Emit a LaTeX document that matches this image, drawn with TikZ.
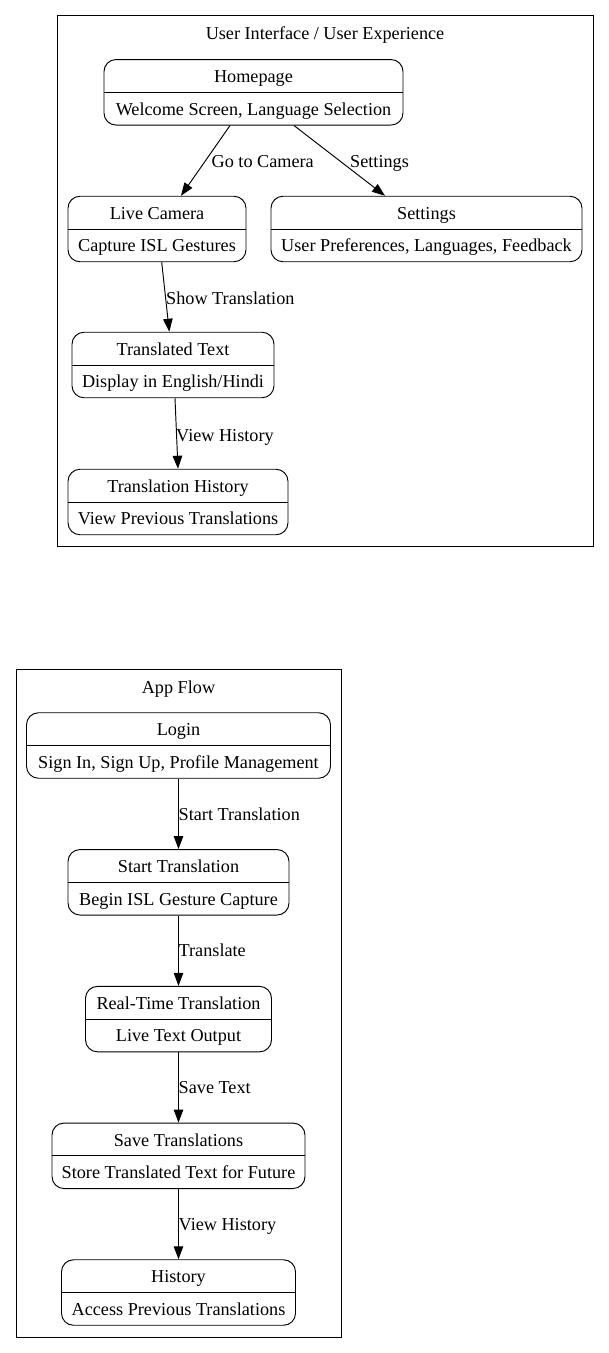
\documentclass[tikz,border=0pt]{standalone}
\usepackage{fontspec}
\setmainfont{Liberation Serif}
\usetikzlibrary{arrows.meta,calc}
\newcommand{\recnode}[6]{%
  \node[recbox, minimum width=#4] (#1) at (#2,#3) {};
  \draw[divider] (#1.west) -- (#1.east);
  \node[txt, anchor=base] (#1-t) at ($(#1.center)+(0,-9.8)$) {#5};
  \node[txt, anchor=base] (#1-s) at ($(#1.center)+(0,22.8)$) {#6};
}
\begin{document}
\begin{tikzpicture}[x=1pt,y=-1pt,
  recbox/.style={draw, rounded corners=12pt, minimum height=65.5pt, inner sep=0pt, line width=0.95pt},
  divider/.style={line width=0.95pt},
  txt/.style={inner sep=0pt, font=\fontsize{18.2}{22}\selectfont},
  lbl/.style={inner sep=0pt, anchor=base west, font=\fontsize{18.2}{22}\selectfont},
  cluster/.style={draw, line width=0.95pt},
  edge/.style={line width=0.95pt, -{Triangle[length=13pt,width=9.5pt]}}
]
\useasboundingbox[fill=white] (0,0) rectangle (609,1353);

% Cluster 1
\node[cluster, minimum width=536pt, minimum height=531pt, inner sep=0pt] (c1) at (325,280.5) {};
\node[txt, anchor=base] (c1t) at (325,39.5) {User Interface / User Experience};

\recnode{home}{253.5}{92.3}{299pt}{Homepage}{Welcome Screen, Language Selection}
\recnode{cam}{157}{229}{178pt}{Live Camera}{Capture ISL Gestures}
\recnode{sett}{426.5}{229}{311pt}{Settings}{User Preferences, Languages, Feedback}
\recnode{tt}{173}{365}{202pt}{Translated Text}{Display in English/Hindi}
\recnode{th}{178}{502}{220pt}{Translation History}{View Previous Translations}

\draw[edge] ([xshift=-23.5pt]home.south) -- ([xshift=24pt]cam.north);
\draw[edge] ([xshift=40.5pt]home.south) -- ([xshift=-41.5pt]sett.north);
\draw[edge] ([xshift=4.7pt]cam.south) -- ([xshift=-3.7pt]tt.north);
\draw[edge] ([xshift=2pt]tt.south) -- (th.north);

\node[lbl] (l1) at (211.5,167.5) {Go to Camera};
\node[lbl] (l2) at (350,167.5) {Settings};
\node[lbl] (l3) at (166,304.5) {Show Translation};
\node[lbl] (l4) at (176,441.5) {View History};

% Cluster 2
\node[cluster, minimum width=325pt, minimum height=668pt, inner sep=0pt] (c2) at (178.5,1003) {};
\node[txt, anchor=base] (c2t) at (178.5,693) {App Flow};

\recnode{login}{178.5}{745.5}{304pt}{Login}{Sign In, Sign Up, Profile Management}
\recnode{st}{178.5}{882.3}{221pt}{Start Translation}{Begin ISL Gesture Capture}
\recnode{rt}{178.5}{1019.1}{186pt}{Real-Time Translation}{Live Text Output}
\recnode{sv}{178.5}{1155.8}{253pt}{Save Translations}{Store Translated Text for Future}
\recnode{hist}{178.5}{1292.5}{234pt}{History}{Access Previous Translations}

\draw[edge] (login.south) -- (st.north);
\draw[edge] (st.south) -- (rt.north);
\draw[edge] (rt.south) -- (sv.north);
\draw[edge] (sv.south) -- (hist.north);

\node[lbl] (l5) at (178.5,820) {Start Translation};
\node[lbl] (l6) at (178.5,956.5) {Translate};
\node[lbl] (l7) at (178.5,1093.5) {Save Text};
\node[lbl] (l8) at (178.5,1230.5) {View History};
\end{tikzpicture}
\end{document}
